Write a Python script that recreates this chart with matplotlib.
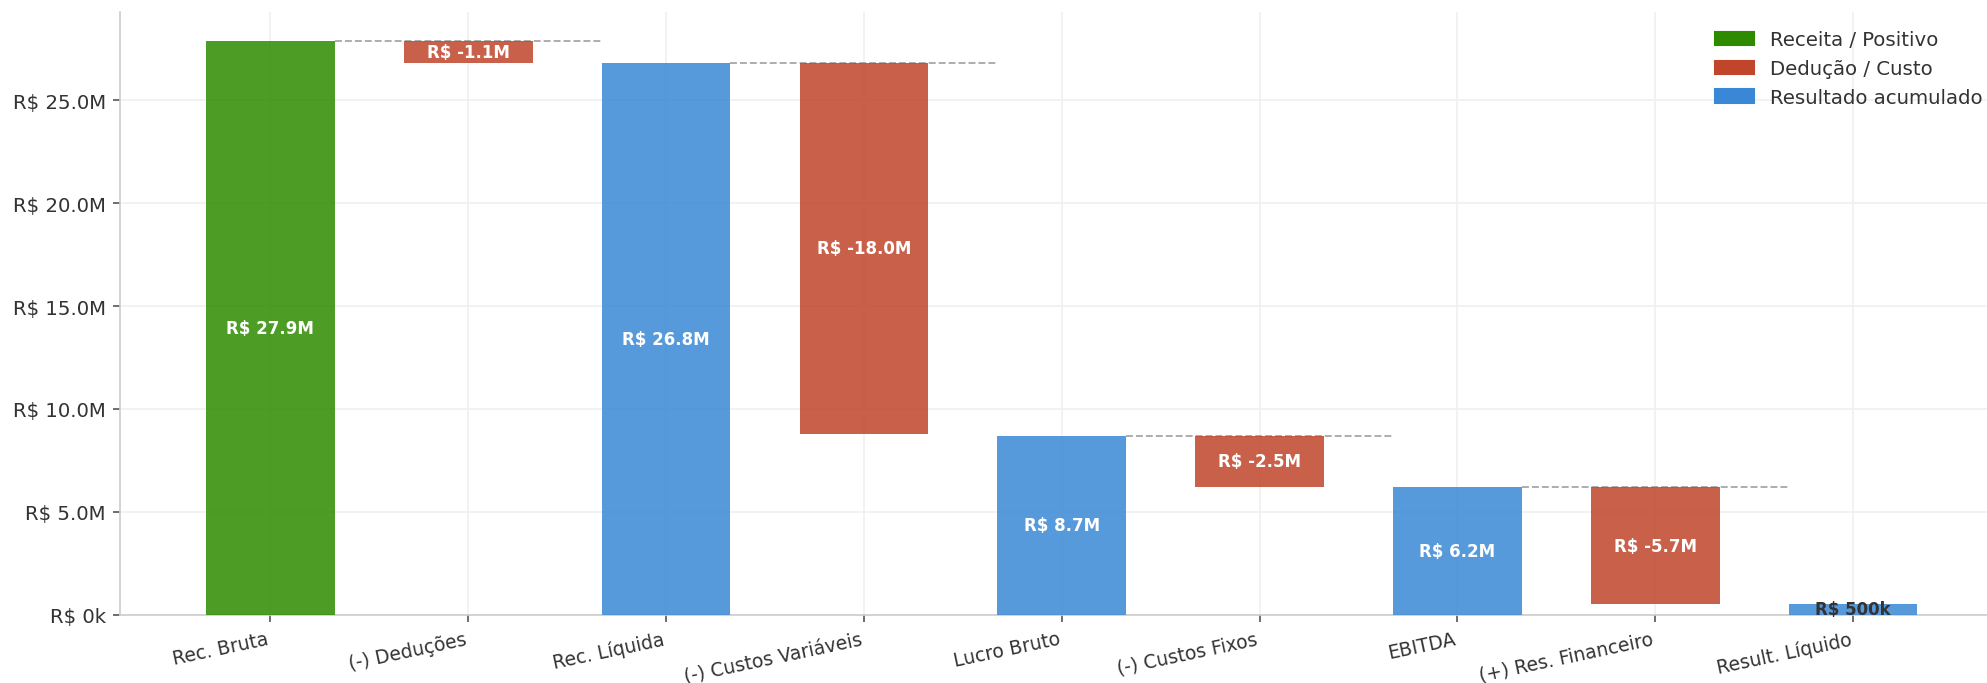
import numpy as np
import matplotlib
matplotlib.use('Agg')
import matplotlib.pyplot as plt
from matplotlib.patches import Patch
from matplotlib.ticker import FuncFormatter

categorias = ['Rec. Bruta', '(-) Deduções', 'Rec. Líquida', '(-) Custos Variáveis',
              'Lucro Bruto', '(-) Custos Fixos', 'EBITDA', '(+) Res. Financeiro',
              'Result. Líquido']
valores = [27.9e6, -1.1e6, 26.8e6, -18.0e6, 8.7e6, -2.5e6, 6.2e6, -5.7e6, 0.5e6]
tipos = ['receita', 'custo', 'total', 'custo', 'total', 'custo', 'total', 'custo', 'total']

cores = {'receita': '#2E8B00', 'custo': '#C0452A', 'total': '#3A88D5'}


def fmt_brl(v, pos=None):
    if abs(v) >= 1e6:
        return 'R$ {:.1f}M'.format(v / 1e6)
    return 'R$ {:.0f}k'.format(v / 1e3)


# bases do waterfall
bases = []
alturas = []
acumulado = 0
for v, t in zip(valores, tipos):
    if t == 'custo':
        bases.append(acumulado + v)
        alturas.append(-v)
        acumulado += v
    else:
        bases.append(0)
        alturas.append(v)
        acumulado = v

fig = plt.figure(figsize=(13.253, 4.56), dpi=150)
ax = fig.add_axes([0.0606, 0.1, 0.947, 0.881])

x = np.arange(len(categorias))
w = 0.65
bars = ax.bar(x, alturas, bottom=bases, width=w,
              color=[cores[t] for t in tipos], alpha=0.85, zorder=3)

# linhas de conexão
for i, (v, t) in enumerate(zip(valores, tipos)):
    if t != 'custo' and i + 2 < len(valores):
        ax.plot([x[i] + w / 2, x[i + 2] - w / 2], [v, v], ls='--', lw=0.9,
                color='#aaaaaa', zorder=2)

# rótulos
for i, (b, h, v) in enumerate(zip(bases, alturas, valores)):
    cor = 'white' if h > 1.0e6 else '#333333'
    ax.text(x[i], b + h / 2, fmt_brl(v), ha='center', va='center',
            fontsize=8, fontweight='bold', color=cor, zorder=4)

ax.set_xticks(x)
ax.set_xticklabels(categorias, rotation=12, ha='right', fontsize=9, color='#333333')
ax.yaxis.set_major_formatter(FuncFormatter(fmt_brl))
ax.tick_params(axis='y', labelsize=9.5, colors='#333333')
ax.tick_params(axis='both', color='#555555')
ax.set_ylim(0, max(valores) * 1.05)
ax.set_xlim(-0.7575, 8.7575)

ax.grid(True, color='#f0f0f0', lw=0.8, zorder=0)
ax.set_axisbelow(True)
for s in ['top', 'right']:
    ax.spines[s].set_visible(False)
for s in ['left', 'bottom']:
    ax.spines[s].set_color('#cccccc')

handles = [Patch(color=cores['receita'], label='Receita / Positivo'),
           Patch(color=cores['custo'], label='Dedução / Custo'),
           Patch(color=cores['total'], label='Resultado acumulado')]
ax.legend(handles=handles, loc='upper right', bbox_to_anchor=(1.0064, 0.98),
          bbox_transform=fig.transFigure, frameon=False, fontsize=9.5,
          labelcolor='#333333')

fig.savefig('out.png', dpi=150)
